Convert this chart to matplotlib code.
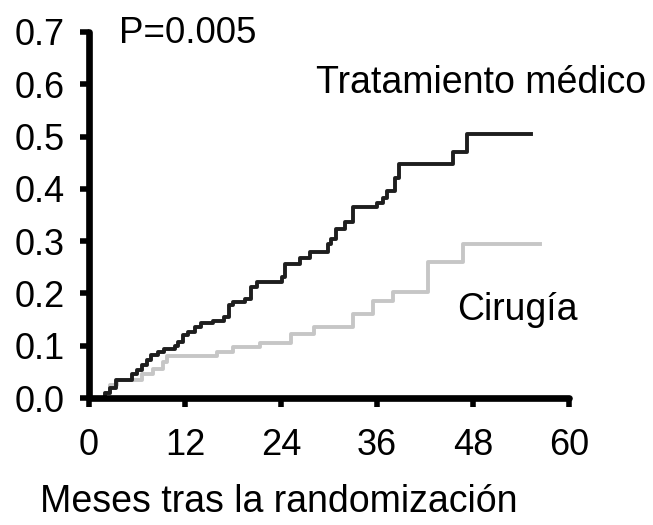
import matplotlib
matplotlib.use("Agg")
from matplotlib import pyplot as plt
from matplotlib.ticker import FormatStrFormatter

# Step curves (months after randomization, cumulative event rate)
medical_months = [0, 2.0, 2.6, 3.4, 5.4, 6.0, 6.6, 7.2, 7.8, 8.6, 9.4, 10.8, 11.1,
                  11.7, 12.4, 13.2, 14.0, 15.5, 16.9, 17.5, 18.0, 19.5, 20.3, 21.0,
                  24.1, 24.5, 26.4, 27.6, 29.9, 30.3, 30.9, 32.0, 33.0, 36.0, 36.8,
                  37.3, 38.3, 38.7, 45.5, 47.2, 55.3]
medical_rate = [0, 0.01, 0.02, 0.034, 0.045, 0.054, 0.063, 0.073, 0.082, 0.088,
                0.094, 0.10, 0.107, 0.12, 0.127, 0.136, 0.143, 0.148, 0.155, 0.178,
                0.184, 0.19, 0.213, 0.222, 0.232, 0.257, 0.267, 0.28, 0.295, 0.305,
                0.324, 0.337, 0.365, 0.373, 0.382, 0.395, 0.42, 0.447, 0.47, 0.505,
                0.505]

surgery_months = [0, 2.0, 2.6, 3.5, 6.6, 8.0, 9.2, 9.8, 16.0, 18.0, 21.4, 25.3,
                  28.1, 33.0, 35.5, 38.0, 42.4, 46.7, 56.4]
surgery_rate = [0, 0.01, 0.025, 0.035, 0.045, 0.055, 0.068, 0.08, 0.088, 0.097,
                0.105, 0.123, 0.136, 0.16, 0.185, 0.203, 0.26, 0.295, 0.295]

x_ticks = [0, 12, 24, 36, 48, 60]
y_ticks = [0.0, 0.1, 0.2, 0.3, 0.4, 0.5, 0.6, 0.7]

plt.rcParams['font.family'] = ['Liberation Sans', 'DejaVu Sans']

fig = plt.figure(figsize=(6.53, 5.25), dpi=100)
ax = fig.add_axes([89 / 653, 127 / 525, 480 / 653, 366 / 525])

ax.step(surgery_months, surgery_rate, where='post', color='#c6c6c6', lw=2.8,
        clip_on=False)
ax.step(medical_months, medical_rate, where='post', color='#1e1e1e', lw=2.8,
        clip_on=False)

ax.set_xlim(0, 60)
ax.set_ylim(0, 0.7)
ax.set_xticks(x_ticks)
ax.set_yticks(y_ticks)
ax.yaxis.set_major_formatter(FormatStrFormatter('%.1f'))

for side in ['top', 'right']:
    ax.spines[side].set_visible(False)
for side in ['left', 'bottom']:
    ax.spines[side].set_linewidth(4.8)
    ax.spines[side].set_capstyle('round')

ax.tick_params(axis='both', direction='out', length=6.5, width=4, labelsize=26)
ax.tick_params(axis='y', pad=11)
ax.tick_params(axis='x', pad=15)

ax.text(3.7, 0.679, 'P=0.005', fontsize=26.5, ha='left', va='baseline')
ax.text(28.4, 0.583, 'Tratamiento médico', fontsize=27, ha='left', va='baseline')
ax.text(46.0, 0.149, 'Cirugía', fontsize=27, ha='left', va='baseline')

fig.text(279 / 653, 13 / 525, 'Meses tras la randomización', fontsize=27,
         ha='center', va='baseline')

fig.savefig('out.png', dpi=100, facecolor='white')
